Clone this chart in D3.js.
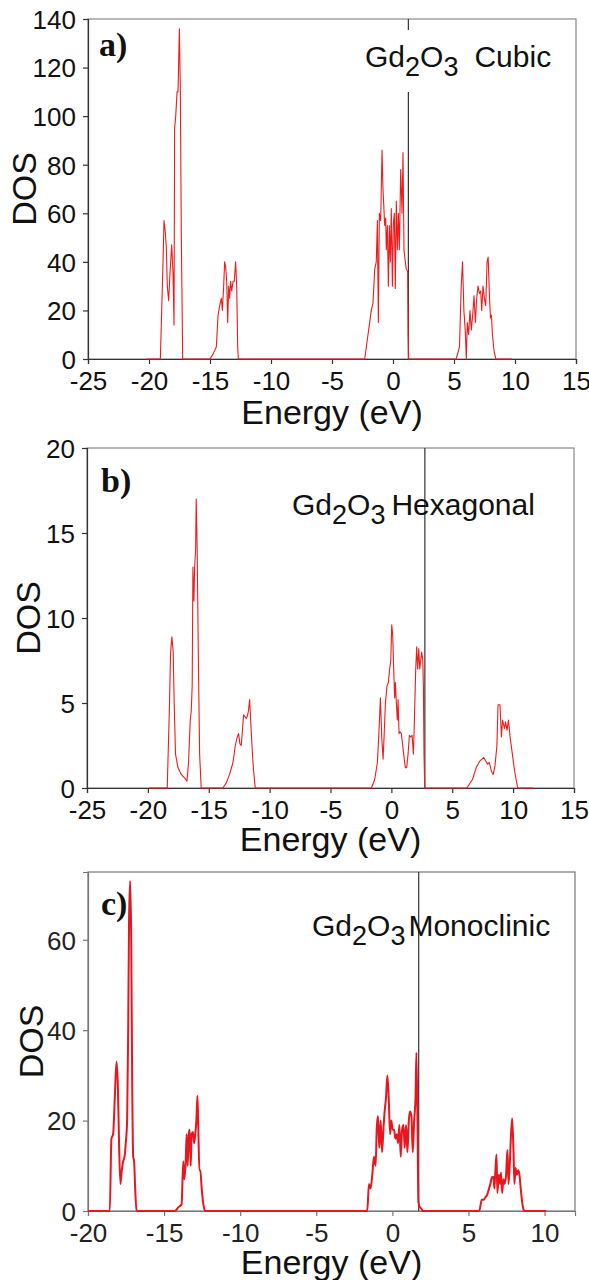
<!DOCTYPE html>
<html><head><meta charset="utf-8">
<script src="https://cdn.jsdelivr.net/npm/d3@7"></script>
<style>
html,body{margin:0;padding:0;background:#fff;}
svg{display:block;}
</style></head><body>
<svg id="chart" width="589" height="1280"></svg>
<script>
// ---- Cubic Gd2O3 DOS ----
const cubicEnergy = [-20.2, -19.07, -18.85, -18.77, -18.66, -18.58, -18.50, -18.39, -18.25, -18.14, -18.03, -17.95, -17.90, -17.81, -17.70, -17.62, -17.51, -17.43, -17.35, -17.24,
  -15.0, -14.75, -14.48, -14.34, -14.21, -14.07, -13.99, -13.88, -13.80, -13.72, -13.63, -13.55, -13.47, -13.39, -13.31, -13.22, -13.11, -13.01, -12.90, -12.81, -12.73, -12.68,
  -2.32, -2.05, -1.78, -1.64, -1.50, -1.37, -1.28, -1.20, -1.12, -1.01, -0.90, -0.82, -0.68, -0.60, -0.55, -0.46, -0.38, -0.30, -0.22, -0.14, -0.05, 0.03, 0.11, 0.19, 0.27, 0.36, 0.44, 0.52, 0.63, 0.74, 0.82, 0.90, 1.01, 1.09, 1.20, 1.24, 1.28,
  5.18, 5.45, 5.59, 5.70, 5.81, 5.92, 6.01, 6.09, 6.20, 6.31, 6.42, 6.53, 6.64, 6.75, 6.86, 6.97, 7.08, 7.19, 7.27, 7.38, 7.49, 7.60, 7.71, 7.80, 7.91, 7.99, 8.07, 8.15, 8.29, 8.43, 9.75];
const cubicDos = [0, 0, 40, 57, 52, 46, 30, 24, 38, 47, 35, 14, 95, 100, 110, 110, 136, 110, 50, 0,
  0, 2, 5, 18, 22, 25, 20, 30, 40, 38, 32, 15, 30, 25, 32, 28, 32, 32, 40, 30, 5, 0,
  0, 10, 20, 23, 37, 40, 57, 15, 60, 57, 86, 70, 55, 58, 45, 55, 30, 55, 40, 62, 30, 56, 60, 29, 65, 45, 60, 45, 78, 60, 85, 45, 40, 37, 36, 10, 0,
  0, 5, 30, 40, 20, 12, 0, 15, 10, 20, 12, 18, 26, 15, 25, 30, 27, 28, 20, 30, 25, 22, 40, 42, 25, 17, 18, 10, 3, 0, 0];
const cubicFermi = 1.26;

// ---- Hexagonal Gd2O3 DOS ----
const hexEnergy = [-19.94, -18.41, -18.22, -18.14, -18.03, -17.92, -17.84, -17.73, -17.53, -17.26, -16.99, -16.79, -16.66, -16.52, -16.44, -16.36, -16.30, -16.22, -16.16, -16.08, -16.03, -15.95, -15.86, -15.75, -15.62,
  -13.84, -13.56, -13.29, -13.01, -12.82, -12.66, -12.55, -12.44, -12.33, -12.22, -12.14, -12.03, -11.92, -11.84, -11.75, -11.64, -11.56, -11.45, -11.34, -11.18,
  -1.64, -1.37, -1.15, -1.04, -0.90, -0.79, -0.68, -0.60, -0.49, -0.36, -0.25, -0.14, -0.05, 0.03, 0.11, 0.19, 0.27, 0.33, 0.41, 0.49, 0.55, 0.63, 0.71, 0.82, 0.93, 1.04, 1.15, 1.26, 1.37, 1.48, 1.59, 1.70, 1.81, 1.89, 2.00, 2.08, 2.16, 2.25, 2.33, 2.41, 2.49, 2.58, 2.63, 2.68, 2.74,
  6.20, 6.66, 6.97, 7.28, 7.59, 7.74, 7.90, 8.05, 8.21, 8.36, 8.51, 8.67, 8.76, 8.92, 9.04, 9.13, 9.29, 9.38, 9.50, 9.62, 9.75, 9.90, 10.12, 10.37, 11.7];
const hexDos = [0, 0, 5, 7.9, 8.9, 8, 5, 2, 1.2, 0.8, 0.6, 0.4, 1.5, 4, 4.5, 6, 13, 11, 13, 14, 17, 14, 8, 2, 0,
  0, 0.3, 0.8, 1.5, 2.5, 3, 3.2, 2.6, 2.5, 3.5, 4.3, 4.2, 4.1, 4.2, 4.5, 5.2, 4.0, 2.5, 1.2, 0,
  0, 0.5, 1.5, 3, 5.3, 3, 1.7, 3, 5, 6, 6.2, 7.0, 7.5, 9.6, 9, 7, 5.3, 6.2, 5, 4, 5.2, 3.2, 3.3, 3.2, 2.5, 1.8, 1.2, 1.2, 2.0, 3.1, 3, 3.1, 2.0, 4, 7, 8.3, 7, 8.2, 7, 7.5, 8, 7.5, 6, 2, 0,
  0, 0.5, 1.2, 1.6, 1.8, 1.6, 1.4, 1.5, 1.0, 0.8, 1.3, 2.5, 4.9, 4.9, 3.0, 4.0, 3.5, 3.9, 3.4, 4.0, 3.0, 2.2, 1.0, 0, 0];
const hexFermi = 2.75;

// ---- Monoclinic Gd2O3 DOS ----
const monoEnergy = [-20, -18.57, -18.46, -18.35, -18.24, -18.13, -18.04, -17.96, -17.87, -17.78, -17.69, -17.60, -17.52, -17.43, -17.36, -17.30, -17.23, -17.16, -17.10, -17.03, -16.97, -16.90, -16.81,
  -14.29, -14.07, -13.85, -13.74, -13.67, -13.58, -13.52, -13.45, -13.38, -13.32, -13.25, -13.19, -13.10, -13.03, -12.95, -12.88, -12.81, -12.75, -12.68, -12.62, -12.53, -12.42, -12.31,
  -1.65, -1.54, -1.43, -1.32, -1.21, -1.10, -1.03, -0.95, -0.86, -0.77, -0.68, -0.59, -0.51, -0.42, -0.33, -0.24, -0.15, -0.07, 0.02, 0.11, 0.20, 0.29, 0.37, 0.46, 0.55, 0.64, 0.73, 0.81, 0.90, 0.99, 1.08, 1.16, 1.25, 1.34, 1.43, 1.52, 1.58, 1.65, 1.71, 1.78, 1.91, 2.00,
  5.71, 5.87, 6.00, 6.11, 6.22, 6.31, 6.44, 6.55, 6.64, 6.70, 6.77, 6.84, 6.90, 6.99, 7.08, 7.14, 7.21, 7.30, 7.38, 7.47, 7.56, 7.63, 7.71, 7.77, 7.87, 7.96, 8.02, 8.09, 8.18, 8.26, 8.35, 8.46, 8.57, 8.68, 10.1];
const monoDos = [0, 0, 16, 17, 25, 33, 28, 15, 6, 9, 11, 12, 15, 20, 40, 65, 73, 60, 30, 12, 11, 5, 0,
  0, 0.8, 1.5, 11, 7, 11, 17, 10, 17, 18, 10, 17, 17.5, 15, 17, 20, 25.5, 18, 9, 9, 5, 1.5, 0,
  0, 6, 5, 8, 12, 10, 18, 21, 14, 20, 13, 18, 22, 25, 30, 25, 17, 20, 18, 18, 16, 17, 15, 19, 12, 18, 19, 14, 19, 13, 20, 22, 21, 13, 20, 25, 35, 20, 2, 1, 0.5, 0,
  0, 2.5, 2.5, 3, 3.5, 4.5, 6, 7.5, 7.5, 5, 9, 12.5, 4, 8, 6, 8.5, 4, 7, 6, 8, 13.5, 6, 10, 15, 20.5, 13, 6, 9.5, 8, 9, 8, 4, 1, 0, 0];
const monoFermi = 1.73;

// ---- tick values ----
const energyTicksWide = [-25, -20, -15, -10, -5, 0, 5, 10, 15];
const energyTicksMono = [-20, -15, -10, -5, 0, 5, 10];
const dosTicksCubic = [0, 20, 40, 60, 80, 100, 120, 140];
const dosTicksHex = [0, 5, 10, 15, 20];
const dosTicksMono = [0, 20, 40, 60];

const panelTags = ["a)", "b)", "c)"];
const phaseNames = ["Cubic", "Hexagonal", "Monoclinic"];

const SANS = '"Liberation Sans", Arial, sans-serif';
const SERIF = '"Liberation Serif", "Times New Roman", serif';

const svg = d3.select("#chart");

const panels = [
  { tag: panelTags[0], phase: phaseNames[0], energy: cubicEnergy, dos: cubicDos, fermi: cubicFermi,
    xDomain: [-25, 15], yDomain: [0, 140], xTicks: energyTicksWide, yTicks: dosTicksCubic,
    left: 88, right: 576, top: 19, bottom: 359,
    lineColor: "#ee1c1c", lineWidth: 1.1, axisColor: "#333", frameColor: "#888", tickColor: "#111",
    labelX: 365, labelY: 67, phaseGap: 16, mask: true,
    tagX: 99, tagY: 56, dosX: 36, energyY: 424, curve: d3.curveLinear },
  { tag: panelTags[1], phase: phaseNames[1], energy: hexEnergy, dos: hexDos, fermi: hexFermi,
    xDomain: [-25, 15], yDomain: [0, 20], xTicks: energyTicksWide, yTicks: dosTicksHex,
    left: 87, right: 574, top: 448, bottom: 788,
    lineColor: "#ee1c1c", lineWidth: 1.1, axisColor: "#333", frameColor: "#888", tickColor: "#111",
    labelX: 292, labelY: 515, phaseGap: 6, mask: false,
    tagX: 101, tagY: 492, dosX: 40, energyY: 851, curve: d3.curveLinear },
  { tag: panelTags[2], phase: phaseNames[2], energy: monoEnergy, dos: monoDos, fermi: monoFermi,
    xDomain: [-20, 12], yDomain: [0, 75], xTicks: energyTicksMono, yTicks: dosTicksMono,
    left: 88, right: 575, top: 872, bottom: 1211,
    lineColor: "#e8161e", lineWidth: 2, axisColor: "#777", frameColor: "#777", tickColor: "#222",
    labelX: 312, labelY: 936, phaseGap: 3, mask: false,
    tagX: 101, tagY: 915, dosX: 43, energyY: 1274, curve: d3.curveMonotoneX }
];

function compoundLabel(g, p, size) {
  const t = g.append("text").attr("x", p.labelX).attr("y", p.labelY)
    .style("font-family", SANS).style("font-size", size + "px").style("fill", "#111");
  const sub = size * 0.3;
  t.append("tspan").text("Gd");
  t.append("tspan").style("font-size", (size * 0.9) + "px").attr("dy", sub).text("2");
  t.append("tspan").attr("dy", -sub).text("O");
  t.append("tspan").style("font-size", (size * 0.9) + "px").attr("dy", sub).text("3");
  t.append("tspan").attr("dy", -sub).attr("dx", p.phaseGap).text(p.phase);
  return t;
}

panels.forEach(p => {
  const x = d3.scaleLinear().domain(p.xDomain).range([p.left, p.right]);
  const y = d3.scaleLinear().domain(p.yDomain).range([p.bottom, p.top]);
  const g = svg.append("g");

  // outer frame (top/right)
  g.append("rect").attr("x", p.left).attr("y", p.top)
    .attr("width", p.right - p.left).attr("height", p.bottom - p.top)
    .attr("fill", "none").attr("stroke", p.frameColor).attr("stroke-width", 1.2);

  // axes
  const xAxis = g.append("g").attr("transform", `translate(0,${p.bottom})`)
    .call(d3.axisBottom(x).tickValues(p.xTicks).tickSize(5).tickPadding(8).tickFormat(d => String(d)));
  const yAxis = g.append("g").attr("transform", `translate(${p.left},0)`)
    .call(d3.axisLeft(y).tickValues(p.yTicks).tickSize(5).tickPadding(7).tickFormat(d => String(d)));
  [xAxis, yAxis].forEach(a => {
    a.select(".domain").attr("stroke", p.axisColor).attr("stroke-width", 1.2);
    a.selectAll(".tick line").attr("stroke", p.axisColor).attr("stroke-width", 1.2);
    a.selectAll(".tick text")
      .style("font-family", SANS).style("font-size", "26px").style("fill", p.tickColor);
  });
  xAxis.selectAll(".tick text").attr("dy", "0.71em");
  yAxis.selectAll(".tick text").attr("dy", "0.36em");

  // Fermi level marker
  g.append("line")
    .attr("x1", x(p.fermi)).attr("x2", x(p.fermi))
    .attr("y1", y(p.yDomain[1])).attr("y2", y(0))
    .attr("stroke", "#333").attr("stroke-width", 1.2);

  // density of states curve
  const pts = d3.zip(p.energy, p.dos);
  const line = d3.line().x(d => x(d[0])).y(d => y(d[1])).curve(p.curve);
  g.append("path").datum(pts).attr("d", line)
    .attr("fill", "none").attr("stroke", p.lineColor)
    .attr("stroke-width", p.lineWidth).attr("stroke-linejoin", "round");

  // phase label, optionally on a white box
  const lblG = g.append("g");
  const lbl = compoundLabel(lblG, p, 30);
  if (p.mask) {
    const bb = lbl.node().getBBox();
    lblG.insert("rect", "text")
      .attr("x", bb.x - 4).attr("y", bb.y - 10)
      .attr("width", bb.width + 8).attr("height", bb.height + 20)
      .attr("fill", "#fff");
  }

  // panel tag
  g.append("text").attr("x", p.tagX).attr("y", p.tagY)
    .style("font-family", SERIF).style("font-weight", "bold").style("font-size", "34px")
    .style("fill", "#111")
    .text(p.tag);

  // axis titles
  g.append("text")
    .attr("transform", `translate(${p.dosX},${(p.top + p.bottom) / 2}) rotate(-90)`)
    .attr("text-anchor", "middle")
    .style("font-family", SANS).style("font-size", "34px").style("fill", "#111")
    .text("DOS");
  g.append("text")
    .attr("x", (p.left + p.right) / 2).attr("y", p.energyY)
    .attr("text-anchor", "middle")
    .style("font-family", SANS).style("font-size", "34px").style("fill", "#111")
    .text("Energy (eV)");
});
</script>
</body></html>
